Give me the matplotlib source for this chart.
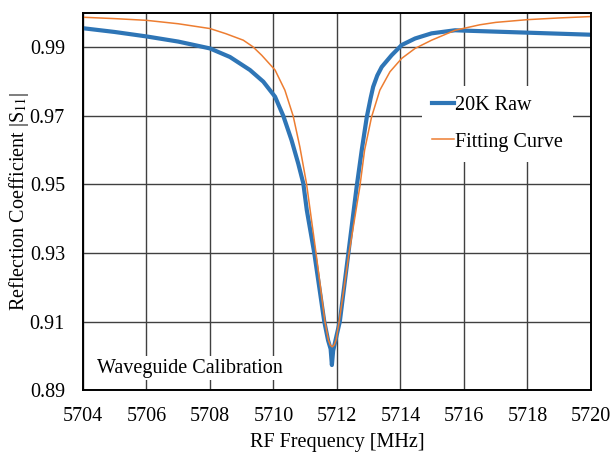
import matplotlib.pyplot as plt

plt.rcParams['font.family'] = ['Liberation Serif', 'DejaVu Serif']
plt.rcParams['mathtext.fontset'] = 'stix'

raw_freq = [5704.0, 5705.0, 5706.0, 5707.0, 5708.0, 5708.63, 5709.26, 5709.68,
            5710.05, 5710.31, 5710.57, 5710.78, 5710.94, 5711.05, 5711.285, 5711.6,
            5711.72, 5711.8, 5711.84, 5711.88, 5711.93, 5711.99, 5712.09, 5712.36,
            5712.62, 5712.78, 5712.94, 5713.06, 5713.14, 5713.27, 5713.41, 5713.72,
            5714.04, 5714.46, 5714.98, 5715.72, 5716.0, 5717.0, 5718.0, 5719.0, 5720.0]
raw_s11 = [0.9956, 0.9945, 0.9932, 0.9917, 0.9897, 0.9872, 0.9834, 0.9800,
           0.9756, 0.9700, 0.9629, 0.9561, 0.9503, 0.9425, 0.9300, 0.9100,
           0.9045, 0.9020, 0.8973, 0.9015, 0.9035, 0.9060, 0.9100, 0.9300,
           0.9493, 0.9600, 0.9697, 0.9752, 0.9785, 0.9818, 0.9843, 0.9877,
           0.9907, 0.9926, 0.9941, 0.9950, 0.9949, 0.9946, 0.9943, 0.9940, 0.9937]

# Fitting curve
fit_freq = [5704.0, 5705.0, 5706.0, 5707.0, 5708.0, 5708.5, 5709.05, 5709.35,
            5709.63, 5710.05, 5710.36, 5710.62, 5710.83, 5711.04, 5711.34, 5711.62,
            5711.73, 5711.79, 5711.85, 5711.91, 5711.97, 5712.07, 5712.38, 5712.72,
            5712.87, 5713.09, 5713.35, 5713.67, 5714.04, 5714.46, 5714.98, 5715.72,
            5716.5, 5717.0, 5718.0, 5719.0, 5720.0]
fit_s11 = [0.9988, 0.9984, 0.9979, 0.9969, 0.9955, 0.9940, 0.9921, 0.9902,
           0.9877, 0.9834, 0.9775, 0.9700, 0.9610, 0.9503, 0.9300, 0.9100,
           0.9046, 0.9031, 0.9026, 0.9031, 0.9046, 0.9100, 0.9300, 0.9493,
           0.9600, 0.9697, 0.9775, 0.9829, 0.9868, 0.9897, 0.9921, 0.9950,
           0.9966, 0.9973, 0.9981, 0.9986, 0.9990]

x_ticks = [5704, 5706, 5708, 5710, 5712, 5714, 5716, 5718, 5720]
y_ticks = [0.89, 0.91, 0.93, 0.95, 0.97, 0.99]

fig = plt.figure(figsize=(6.12, 4.53), dpi=100)
ax = fig.add_axes([0.1356, 0.139, 0.830, 0.832])

ax.plot(raw_freq, raw_s11, color='#2E75B6', linewidth=3.0, label='20K Raw',
        solid_joinstyle='round')
ax.plot(fit_freq, fit_s11, color='#ED7D31', linewidth=1.1, label='Fitting Curve')

ax.set_xlim(5704, 5720)
ax.set_ylim(0.89, 1.00)
ax.set_xticks(x_ticks)
ax.set_yticks(y_ticks)
ax.set_yticklabels([f'{v:.2f}' for v in y_ticks])
ax.grid(True, color='#404040', linewidth=1.0)
ax.set_axisbelow(True)
ax.tick_params(labelsize=14.5, length=0)
ax.tick_params(axis='x', pad=12)
ax.tick_params(axis='y', pad=13)
for s in ax.spines.values():
    s.set_linewidth(1.4)
    s.set_color('black')

ax.set_xlabel('RF Frequency [MHz]', fontsize=14.5, labelpad=5)
ax.set_ylabel(r'Reflection Coefficient |S$_{11}$|', fontsize=14.5, labelpad=-1)

leg = ax.legend(loc='upper left', bbox_to_anchor=(0.647, 0.833), fontsize=14.5,
                frameon=True, fancybox=False, handlelength=1.1,
                handletextpad=0.05, labelspacing=0.85, borderpad=0.5)
leg.get_frame().set_facecolor('white')
leg.get_frame().set_edgecolor('none')
leg.get_frame().set_alpha(1)

ax.text(0.027, 0.058, 'Waveguide Calibration', transform=ax.transAxes,
        fontsize=14.5, va='center', ha='left',
        bbox=dict(facecolor='white', edgecolor='none', pad=2))

fig.savefig('out.png', dpi=100)
